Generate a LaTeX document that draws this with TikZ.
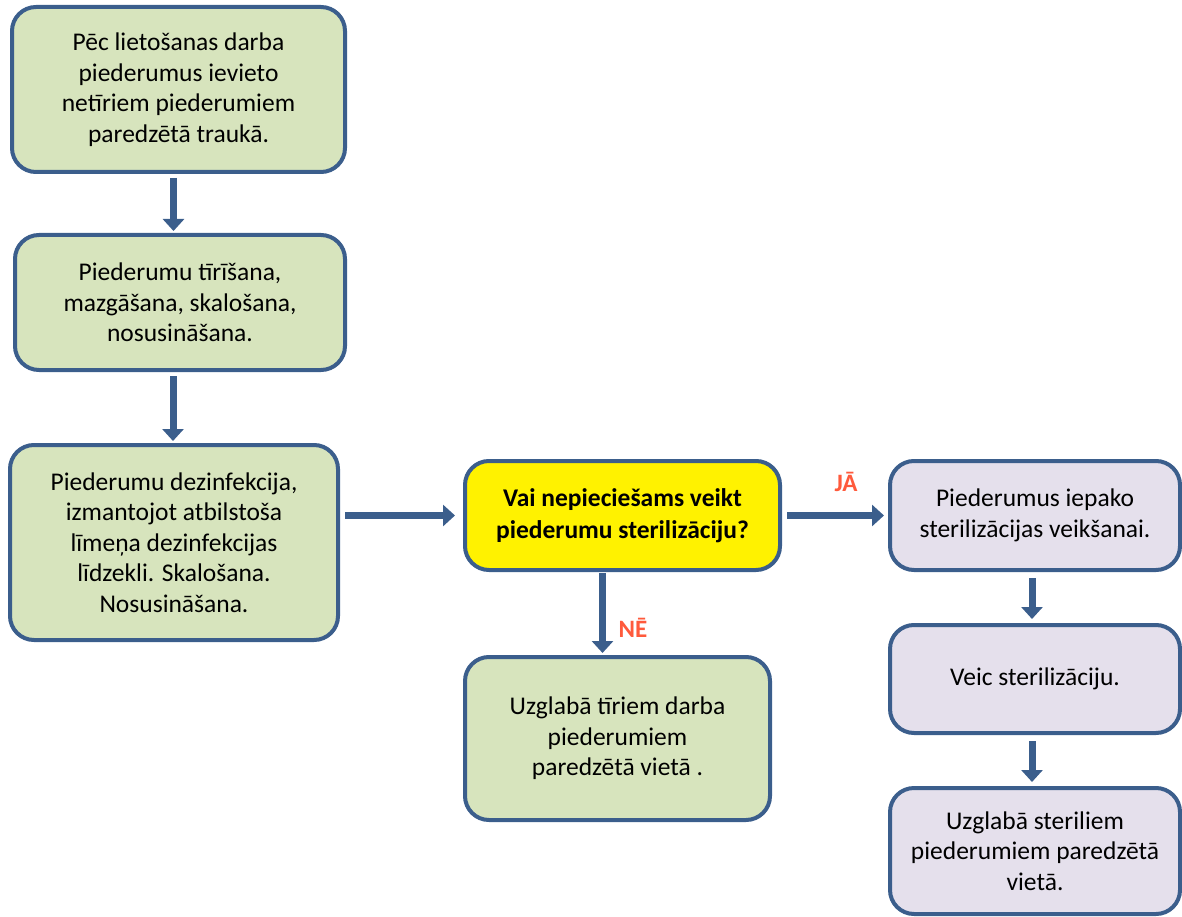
\documentclass[tikz,border=0pt]{standalone}
\usepackage{fontspec}
\setmainfont{Carlito}
\usetikzlibrary{arrows.meta}
\definecolor{bordc}{HTML}{3B5E8C}
\definecolor{greenf}{HTML}{D7E4BD}
\definecolor{lavf}{HTML}{E5E0EC}
\definecolor{labc}{HTML}{FF5A3C}
\tikzset{
  box/.style={draw=bordc, line width=4pt, rounded corners=24pt, align=center,
    font=\fontsize{25.5}{30.5}\selectfont, inner sep=4pt},
  gbox/.style={box, fill=greenf},
  lbox/.style={box, fill=lavf},
  ybox/.style={box, fill=yellow, font=\fontsize{25.5}{32}\selectfont\bfseries},
  arr/.style={draw=bordc, line width=7pt, -{Triangle[width=21pt,length=12pt]}},
  lab/.style={text=labc, font=\fontsize{25}{28}\selectfont\bfseries}
}
\begin{document}
\begin{tikzpicture}[x=1pt,y=-1pt]
\useasboundingbox (0,0) rectangle (1182,917);
\node[gbox, minimum width=333pt, minimum height=165pt] (b1) at (178.5,89.5)
  {Pēc lietošanas darba\\piederumus ievieto\\netīriem piederumiem\\paredzētā traukā.};
\node[gbox, minimum width=330pt, minimum height=135pt] (b2) at (180,302.5)
  {Piederumu tīrīšana,\\mazgāšana, skalošana,\\nosusināšana.};
\node[gbox, minimum width=328pt, minimum height=195pt] (b3) at (174,542.5)
  {Piederumu dezinfekcija,\\izmantojot atbilstoša\\līmeņa dezinfekcijas\\līdzekli. Skalošana.\\Nosusināšana.};
\node[ybox, minimum width=315pt, minimum height=109pt] (dec) at (622.5,515.5)
  {Vai nepieciešams veikt\\piederumu sterilizāciju?};
\node[gbox, minimum width=305pt, minimum height=163pt] (ne) at (617.5,738.5)
  {Uzglabā tīriem darba\\piederumiem\\paredzētā vietā .};
\node[lbox, minimum width=290pt, minimum height=109pt] (r1) at (1035,515.5)
  {Piederumus iepako\\sterilizācijas veikšanai.};
\node[lbox, minimum width=290pt, minimum height=108pt] (r2) at (1035,679)
  {Veic sterilizāciju.};
\node[lbox, minimum width=290pt, minimum height=126pt] (r3) at (1035,851)
  {Uzglabā steriliem\\piederumiem paredzētā\\vietā.};
\draw[arr, shorten <=4pt, shorten >=2pt] ([xshift=-5pt]b1.south) -- ([xshift=-5pt]b1.south |- b2.north);
\draw[arr, shorten <=4pt, shorten >=2pt] ([xshift=-7pt]b2.south) -- ([xshift=-7pt]b2.south |- b3.north);
\draw[arr, shorten <=5pt, shorten >=8pt] (b3.east |- dec.west) -- (dec.west);
\draw[arr, shorten <=5pt, shorten >=4pt] (dec.east) -- (r1.west);
\draw[arr, shorten <=1pt, shorten >=2pt] ([xshift=-20pt]dec.south) -- ([xshift=-20pt]dec.south |- ne.north);
\draw[arr, shorten <=6pt, shorten >=4pt] ([xshift=-3pt]r1.south) -- ([xshift=-3pt]r1.south |- r2.north);
\draw[arr, shorten <=6pt, shorten >=4pt] ([xshift=-3pt]r2.south) -- ([xshift=-3pt]r2.south |- r3.north);
\node[lab] (ja) at (846,482) {JĀ};
\node[lab] (nee) at (633,628) {NĒ};
\end{tikzpicture}
\end{document}
